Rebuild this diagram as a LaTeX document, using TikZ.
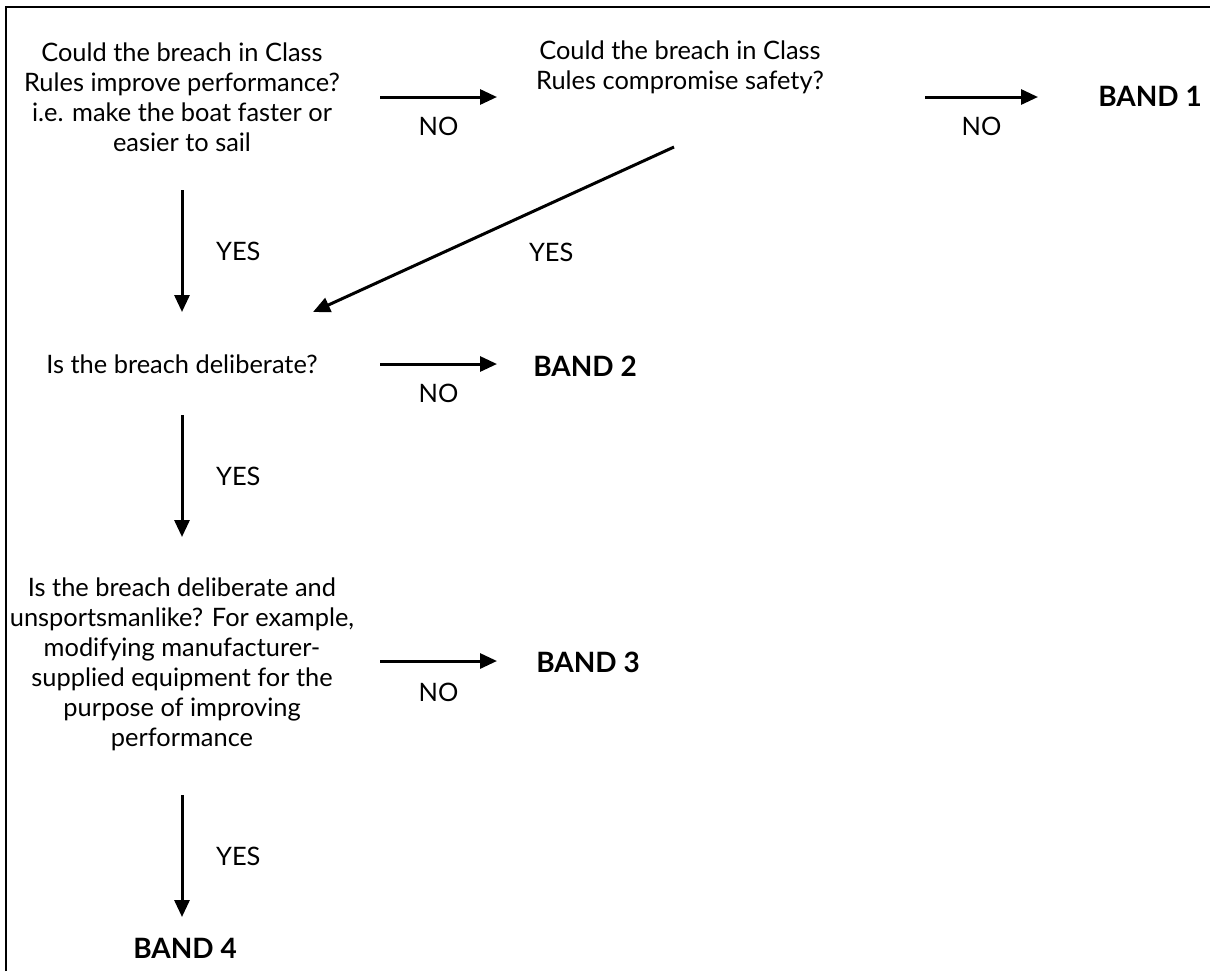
\documentclass[tikz,border=0pt]{standalone}
\usepackage{fontspec}
\setmainfont{Lato}
\usetikzlibrary{arrows.meta}

\begin{document}
\begin{tikzpicture}
[
x=0.5pt, y=-0.5pt,
question/.style={align=center, font=\fontsize{12.7}{15}\selectfont},
band/.style={font=\fontsize{14}{15}\selectfont\bfseries},
answer/.style={font=\fontsize{12.7}{15}\selectfont},
link/.style={-{Triangle[length=8.5pt,width=7.5pt]}, line width=1.5pt},
frame/.style={line width=1.4pt}
]
\useasboundingbox (0,0) rectangle (1210,971);
%Frame
\draw[frame] (6,971) |- (1210,7);

%Nodes
\node[question]   (q1)   at (182,97)    {Could the breach in Class\\Rules improve performance?\\i.e. make the boat faster or\\easier to sail};
\node[question]   (q2)   at (680,67)    {Could the breach in Class\\Rules compromise safety?};
\node[band]       (b1)   at (1150,96)   {BAND 1};
\node[question]   (q3)   at (182,364)   {Is the breach deliberate?};
\node[band]       (b2)   at (585,366)   {BAND 2};
\node[question]   (q4)   at (182,664)   {Is the breach deliberate and\\unsportsmanlike? For example,\\modifying manufacturer-\\supplied equipment for the\\purpose of improving\\performance};
\node[band]       (b3)   at (588,662)   {BAND 3};
\node[band]       (b4)   at (185,948)   {BAND 4};

%Lines
\path[link]
([shift={(198,0)}]q1.center)   edge  node[answer, below=6pt]   {NO}    ([shift={(-183,30)}]q2.center)
([shift={(245,30)}]q2.center)  edge  node[answer, below=6pt]   {NO}    ([shift={(-112,1)}]b1.center)
([shift={(0,93)}]q1.center)    edge  node[answer, right=13pt]  {YES}   ([shift={(0,-52)}]q3.center)
([shift={(-6,80)}]q2.center)   edge  node[answer, pos=0.34, below=16pt] {YES} ([shift={(131,-52)}]q3.center)
([shift={(198,0)}]q3.center)   edge  node[answer, below=6pt]   {NO}    ([shift={(-88,-2)}]b2.center)
([shift={(0,51)}]q3.center)    edge  node[answer, right=13pt]  {YES}   ([shift={(0,-127)}]q4.center)
([shift={(198,-3)}]q4.center)  edge  node[answer, below=7pt]   {NO}    ([shift={(-91,-1)}]b3.center)
([shift={(0,131)}]q4.center)   edge  node[answer, right=13pt]  {YES}   ([shift={(-3,-31)}]b4.center);
\end{tikzpicture}
\end{document}
